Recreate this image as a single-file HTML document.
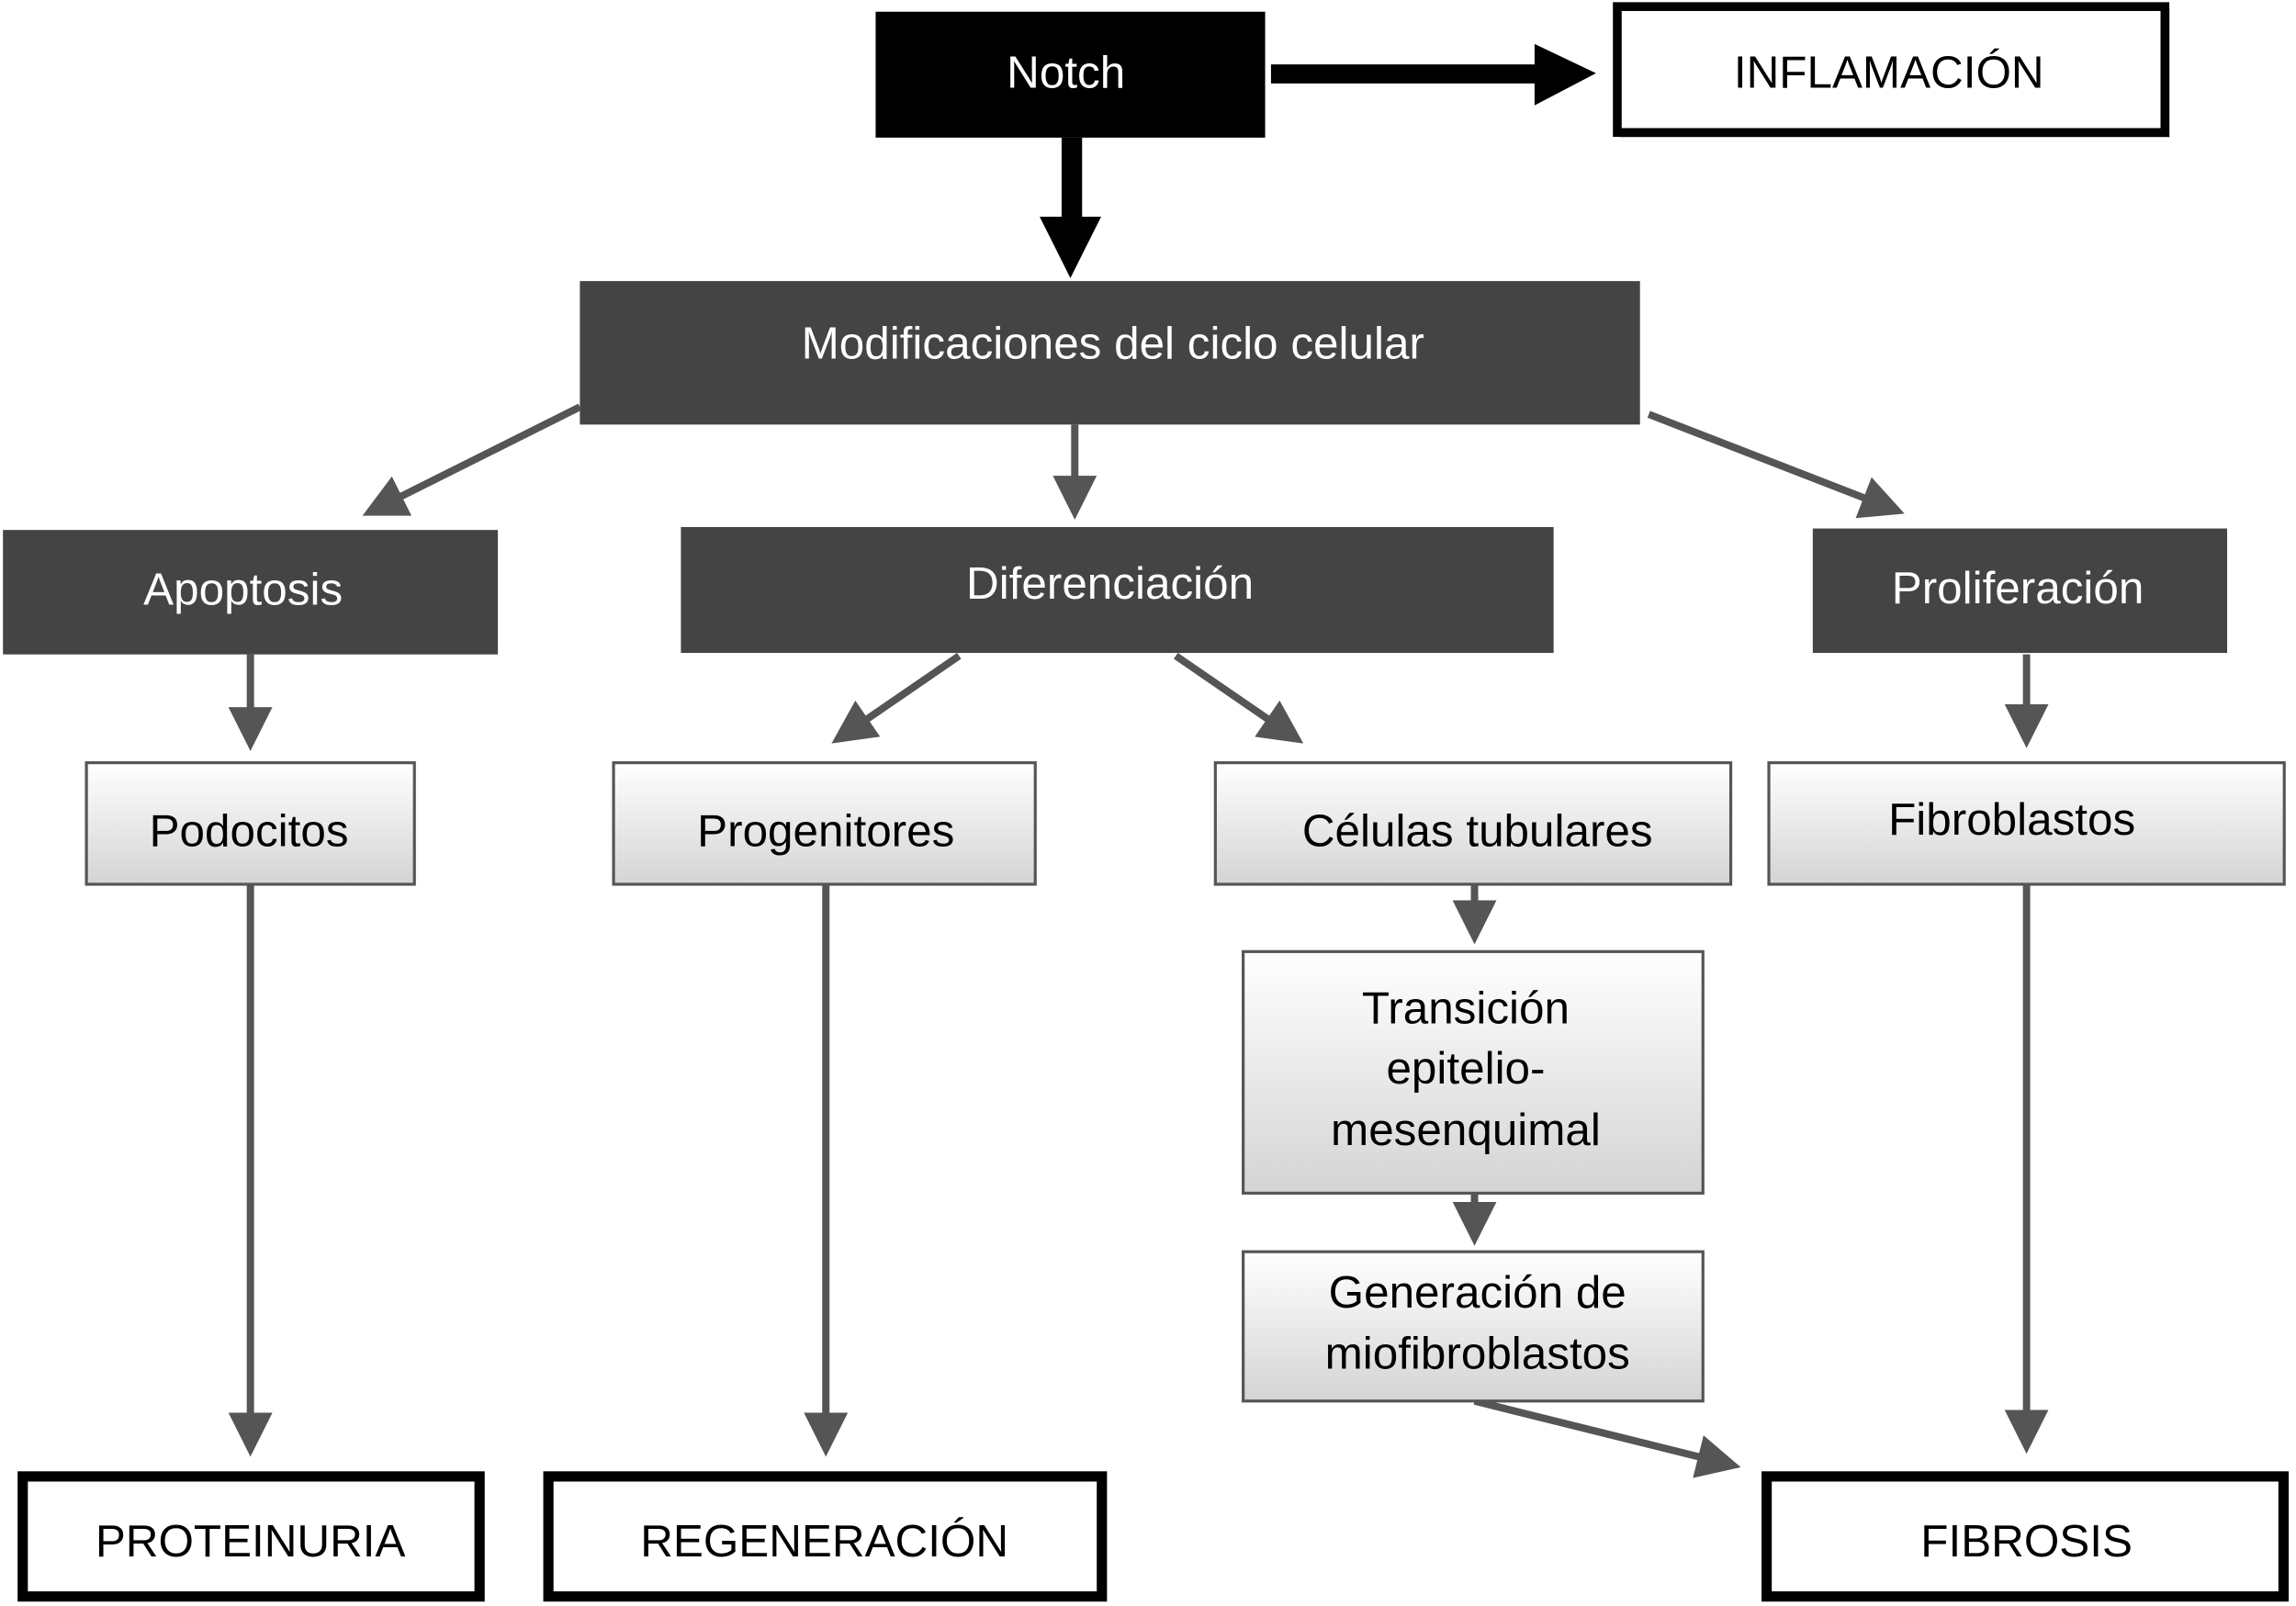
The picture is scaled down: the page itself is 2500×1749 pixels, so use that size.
<!DOCTYPE html>
<html><head><meta charset="utf-8"><style>
html,body{margin:0;padding:0;background:#fff;}
svg{display:block;}
text{font-family:"Liberation Sans",sans-serif;}
</style></head><body>
<svg width="2500" height="1749" viewBox="0 0 1568 1097" xmlns="http://www.w3.org/2000/svg">
<defs>
<linearGradient id="g" x1="0" y1="0" x2="0" y2="1">
<stop offset="0" stop-color="#ffffff"/><stop offset="1" stop-color="#d4d4d4"/>
</linearGradient>
<marker id="ah" markerWidth="6" markerHeight="6" refX="5" refY="3" orient="auto" markerUnits="strokeWidth">
<path d="M0,0 L6,3 L0,6 z" fill="#555"/>
</marker>
</defs>
<rect width="1568" height="1097" fill="#fff"/>

<!-- Notch -->
<rect x="598" y="8" width="266" height="86" fill="#000"/>
<text x="728" y="60" font-size="31" fill="#fff" text-anchor="middle">Notch</text>
<!-- arrow to inflamacion -->
<rect x="868" y="44" width="185" height="13" fill="#000"/>
<path d="M1048,30 L1090,50 L1048,72 z" fill="#000"/>
<!-- Inflamacion -->
<rect x="1106" y="6" width="376" height="88" fill="#999" opacity="0.5"/>
<rect x="1104.5" y="4.5" width="374" height="86" fill="#fff" stroke="#000" stroke-width="6"/>
<text x="1290" y="60" font-size="31" fill="#000" text-anchor="middle">INFLAMACIÓN</text>
<!-- down arrow -->
<rect x="725" y="94" width="14" height="56" fill="#000"/>
<path d="M710,148 L752,148 L731,190 z" fill="#000"/>

<!-- Modificaciones -->
<rect x="396" y="192" width="724" height="98" fill="#444"/>
<text x="760" y="245" font-size="31" fill="#fff" text-anchor="middle">Modificaciones del ciclo celular</text>

<g stroke="#555" stroke-width="5" fill="none" marker-end="url(#ah)">
<line x1="396" y1="278" x2="252" y2="350"/>
<line x1="734" y1="290" x2="734" y2="350"/>
<line x1="1126" y1="283" x2="1296" y2="349"/>
<line x1="171" y1="447" x2="171" y2="508"/>
<line x1="655" y1="448" x2="572" y2="505"/>
<line x1="803" y1="448" x2="886" y2="505"/>
<line x1="1384" y1="447" x2="1384" y2="506"/>
<line x1="171" y1="604" x2="171" y2="990"/>
<line x1="564" y1="604" x2="564" y2="990"/>
<line x1="1007" y1="604" x2="1007" y2="640"/>
<line x1="1384" y1="604" x2="1384" y2="988"/>
<line x1="1007" y1="815" x2="1007" y2="846"/>
<line x1="1007" y1="957" x2="1184" y2="1001"/>
</g>

<!-- row 2 dark -->
<rect x="2" y="362" width="338" height="85" fill="#444"/>
<text x="166" y="413" font-size="31" fill="#fff" text-anchor="middle">Apoptosis</text>
<rect x="465" y="360" width="596" height="86" fill="#444"/>
<text x="758" y="409" font-size="31" fill="#fff" text-anchor="middle">Diferenciación</text>
<rect x="1238" y="361" width="283" height="85" fill="#444"/>
<text x="1378" y="412" font-size="31" fill="#fff" text-anchor="middle">Proliferación</text>

<!-- row 3 light -->
<g fill="url(#g)" stroke="#555" stroke-width="2">
<rect x="59" y="521" width="224" height="83"/>
<rect x="419" y="521" width="288" height="83"/>
<rect x="830" y="521" width="352" height="83"/>
<rect x="1208" y="521" width="352" height="83"/>
<rect x="849" y="650" width="314" height="165"/>
<rect x="849" y="855" width="314" height="102"/>
</g>
<g font-size="31" fill="#000" text-anchor="middle">
<text x="170" y="578">Podocitos</text>
<text x="564" y="578">Progenitores</text>
<text x="1009" y="578">Células tubulares</text>
<text x="1374" y="570">Fibroblastos</text>
<text x="1001" y="699">Transición</text>
<text x="1001" y="740">epitelio-</text>
<text x="1001" y="782">mesenquimal</text>
<text x="1009" y="893">Generación de</text>
<text x="1009" y="935">miofibroblastos</text>
</g>

<!-- bottom outcome boxes -->
<g fill="#fff" stroke="#000" stroke-width="7">
<rect x="15.5" y="1008.5" width="312" height="82"/>
<rect x="374.5" y="1008.5" width="378" height="82"/>
<rect x="1206.5" y="1008.5" width="353" height="82"/>
</g>
<g font-size="31" fill="#000" text-anchor="middle">
<text x="171" y="1063">PROTEINURIA</text>
<text x="563" y="1063">REGENERACIÓN</text>
<text x="1384" y="1063">FIBROSIS</text>
</g>
</svg>
</body></html>
